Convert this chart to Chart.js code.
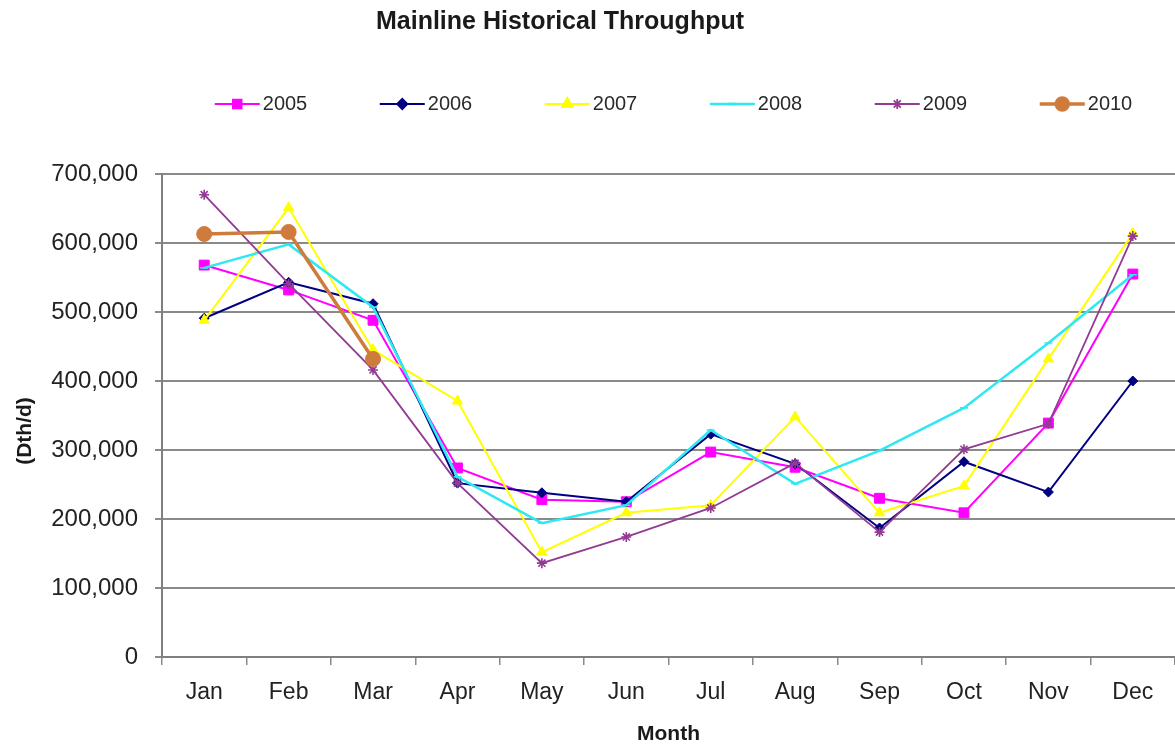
<!DOCTYPE html>
<html>
<head>
<meta charset="utf-8">
<title>Mainline Historical Throughput</title>
<script src="https://cdn.jsdelivr.net/npm/chart.js@4/dist/chart.umd.min.js"></script>
<style>
  html, body { margin: 0; padding: 0; background: #ffffff; }
  #wrap { width: 1175px; height: 747px; }
</style>
</head>
<body>
<div id="wrap"><canvas id="chart" width="1175" height="747"></canvas></div>
<script>
// Monthly mainline throughput, Dth/d
const months = ['Jan', 'Feb', 'Mar', 'Apr', 'May', 'Jun', 'Jul', 'Aug', 'Sep', 'Oct', 'Nov', 'Dec'];
const yTickValues = [0, 100000, 200000, 300000, 400000, 500000, 600000, 700000];

const years = ['2005', '2006', '2007', '2008', '2009', '2010'];
const thru2005 = [568000, 532000, 488000, 274000, 228000, 225000, 297000, 275000, 230000, 209000, 339000, 555000];
const thru2006 = [491000, 543000, 512000, 252000, 238000, 225000, 323000, 280000, 187000, 283000, 239000, 400000];
const thru2007 = [488000, 651000, 445000, 371000, 152000, 209000, 220000, 348000, 209000, 248000, 432000, 614000];
const thru2008 = [564000, 598000, 507000, 261000, 194000, 220000, 329000, 251000, 299000, 361000, 455000, 554000];
const thru2009 = [670000, 541000, 416000, 252000, 136000, 174000, 216000, 281000, 181000, 301000, 338000, 610000];
const thru2010 = [613000, 616000, 432000, null, null, null, null, null, null, null, null, null];

const FONT = '"Liberation Sans", Arial, Helvetica, sans-serif';

const seriesStyle = [
  { color: '#FF00FF', width: 2,   point: 'rect',     radius: 7 },
  { color: '#000080', width: 2,   point: 'rectRot',  radius: 5 },
  { color: '#FFFF00', width: 2,   point: 'triangle', radius: 6 },
  { color: '#2EE8F2', width: 2.5, point: 'line',     radius: 4 },
  { color: '#933A93', width: 1.8, point: 'star',     radius: 5 },
  { color: '#CF7B3B', width: 3.5, point: 'circle',   radius: 7.5 }
];
const seriesValues = [thru2005, thru2006, thru2007, thru2008, thru2009, thru2010];

const datasets = years.map((yr, i) => ({
  label: yr,
  data: seriesValues[i],
  borderColor: seriesStyle[i].color,
  backgroundColor: seriesStyle[i].color,
  borderWidth: seriesStyle[i].width,
  pointStyle: seriesStyle[i].point,
  pointRadius: seriesStyle[i].radius,
  pointBorderWidth: seriesStyle[i].point === 'star' || seriesStyle[i].point === 'line' ? 1.6 : 1,
  pointBackgroundColor: seriesStyle[i].color,
  pointBorderColor: seriesStyle[i].color,
  tension: 0,
  spanGaps: false,
  order: years.length - 1 - i   // later years drawn on top
}));

// Chart heading, the vertical unit label and the line+marker key
const headerPlugin = {
  id: 'header',
  afterDraw(chart) {
    const ctx = chart.ctx;
    const area = chart.chartArea;
    ctx.save();
    ctx.fillStyle = '#1a1a1a';
    ctx.font = 'bold 25px ' + FONT;
    ctx.textAlign = 'center';
    ctx.textBaseline = 'middle';
    ctx.fillText('Mainline Historical Throughput', 560, 22);

    // unit label, rotated, left of the value axis
    ctx.save();
    ctx.translate(25, 431);
    ctx.rotate(-Math.PI / 2);
    ctx.font = 'bold 21px ' + FONT;
    ctx.fillText('(Dth/d)', 0, 0);
    ctx.restore();

    const ds = chart.data.datasets;
    const lineLen = 45, gap = 3, step = 165, keyY = 104;
    ctx.font = '20px ' + FONT;
    const lastW = ctx.measureText(ds[ds.length - 1].label).width;
    const total = step * (ds.length - 1) + lineLen + gap + lastW;
    const x0 = (area.left + area.right) / 2 - total / 2 + 5;
    ds.forEach((d, i) => {
      const x = x0 + i * step;
      ctx.strokeStyle = d.borderColor;
      ctx.lineWidth = d.borderWidth;
      ctx.beginPath();
      ctx.moveTo(x, keyY);
      ctx.lineTo(x + lineLen, keyY);
      ctx.stroke();
      ctx.fillStyle = d.pointBackgroundColor;
      ctx.strokeStyle = d.pointBorderColor;
      if (Chart.helpers && Chart.helpers.drawPoint) {
        Chart.helpers.drawPoint(ctx, {
          pointStyle: d.pointStyle, rotation: 0,
          radius: Math.min(d.pointRadius, 6), borderWidth: d.pointBorderWidth
        }, x + lineLen / 2, keyY);
      }
      ctx.fillStyle = '#2a2a2a';
      ctx.textAlign = 'left';
      ctx.textBaseline = 'middle';
      ctx.fillText(d.label, x + lineLen + gap, keyY);
    });
    ctx.restore();
  }
};

new Chart(document.getElementById('chart'), {
  type: 'line',
  data: { labels: months, datasets },
  options: {
    responsive: false,
    animation: false,
    devicePixelRatio: 1,
    layout: { autoPadding: false, padding: { top: 174, right: 0, bottom: 0, left: 0 } },
    plugins: {
      legend: { display: false },
      title: { display: false },
      tooltip: { enabled: false }
    },
    scales: {
      x: {
        type: 'category',
        offset: true,
        afterFit(scale) {
          scale.height = 90;
          scale.paddingLeft = 0;
          scale.paddingRight = 0;
        },
        grid: {
          display: true,
          offset: true,
          drawOnChartArea: false,
          drawTicks: true,
          tickLength: 8,
          color: '#8a8a8a',
          lineWidth: 1.5
        },
        border: { display: true, color: '#7f7f7f', width: 2 },
        ticks: {
          color: '#222222',
          font: { family: FONT, size: 23 },
          padding: 14,
          maxRotation: 0,
          autoSkip: false
        },
        title: {
          display: true,
          text: 'Month',
          color: '#1a1a1a',
          font: { family: FONT, size: 21, weight: 'bold' },
          padding: { top: 15, bottom: 0 }
        }
      },
      y: {
        min: 0,
        max: 700000,
        afterBuildTicks(scale) {
          scale.ticks = yTickValues.map(v => ({ value: v }));
        },
        afterFit(scale) {
          scale.width = 162;
          scale.paddingTop = 0;
          scale.paddingBottom = 0;
        },
        grid: {
          color: '#8a8a8a',
          lineWidth: 2,
          drawTicks: true,
          tickLength: 7
        },
        border: { display: true, color: '#7f7f7f', width: 2 },
        ticks: {
          color: '#222222',
          font: { family: FONT, size: 24 },
          padding: 17,
          callback: v => Number(v).toLocaleString('en-US')
        },
        title: { display: false }
      }
    }
  },
  plugins: [headerPlugin]
});
</script>
</body>
</html>
